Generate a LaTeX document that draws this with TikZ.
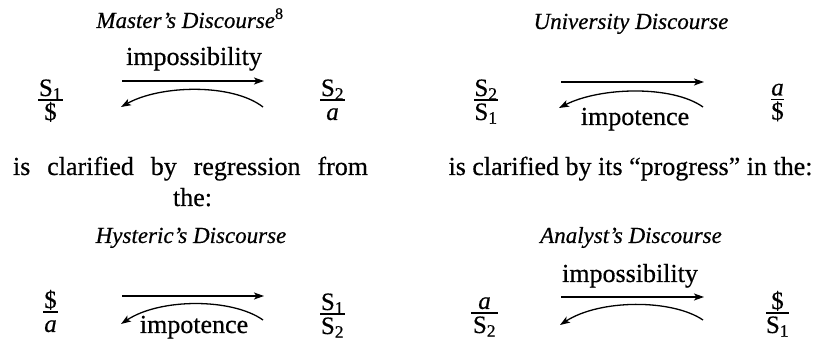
\documentclass[tikz,border=0pt]{standalone}
\usepackage{fontspec}
\setmainfont{Liberation Serif}[FakeBold=0.5]
\usetikzlibrary{arrows.meta}
\tikzset{
  ttl/.style={anchor=base,inner sep=0pt,font=\fontsize{23}{27}\selectfont\itshape},
  lbl/.style={anchor=base,inner sep=0pt,font=\fontsize{26}{30}\selectfont},
  num/.style={anchor=base,inner sep=0pt,font=\fontsize{25}{29}\selectfont},
  fbar/.style={line width=1.4pt},
  conn/.style={line width=1.3pt,-{Stealth[length=10pt,width=7pt,inset=2.5pt]}}
}
\newcommand{\Sone}{S\textsubscript{1}}
\newcommand{\Stwo}{S\textsubscript{2}}
\newcommand{\obja}{\textit{a}}
\newcommand{\fracn}[6]{%
  \node[num] (#1n) at (#2,#3-4) {#4};
  \node[num] (#1d) at (#2,#3+20) {#5};
  \draw[fbar] (#2-#6,#3) -- (#2+#6,#3);}
\begin{document}
\begin{tikzpicture}[x=1pt,y=-1pt]
\useasboundingbox (0,0) rectangle (816,344);
% Master
\node[ttl] (mt) at (190,28) {Master’s Discourse\textsuperscript{\upshape 8}};
\fracn{m1}{50.5}{100}{\Sone}{\$}{12.5}
\fracn{m2}{332.5}{100}{\Stwo}{\obja}{12.5}
\coordinate (ma1) at (122,81); \coordinate (ma2) at (264,81);
\coordinate (mb1) at (263,107); \coordinate (mb2) at (121,107);
\draw[conn] (ma1) -- (ma2);
\node[lbl] (mi) at (194,65) {impossibility};
\draw[conn] (mb1) .. controls (232,83) and (160,85) .. (mb2);
% University
\node[ttl] (ut) at (631,29) {University Discourse};
\fracn{u1}{486}{100}{\Stwo}{\Sone}{12}
\fracn{u2}{777.5}{99.5}{\obja}{\$}{6.5}
\coordinate (ua1) at (561,82); \coordinate (ua2) at (704,82);
\coordinate (ub1) at (703,107); \coordinate (ub2) at (559,108);
\draw[conn] (ua1) -- (ua2);
\draw[conn] (ub1) .. controls (672,85) and (600,87) .. (ub2);
\node[lbl] (ui) at (635,125) {impotence};
% middle text
\node[lbl] (t1) at (190.5,175) {\makebox[355pt][s]{is clarified by regression from}};
\node[lbl] (t2) at (192.5,206) {the:};
\node[lbl] (t3) at (630.5,175) {is clarified by its “progress” in the:};
% Hysteric
\node[ttl] (ht) at (191,243) {Hysteric’s Discourse};
\fracn{h1}{50.5}{312}{\$}{\obja}{7.5}
\fracn{h2}{332.5}{314}{\Sone}{\Stwo}{12.5}
\coordinate (ha1) at (122,296); \coordinate (ha2) at (264,296);
\coordinate (hb1) at (263,320); \coordinate (hb2) at (121,324);
\draw[conn] (ha1) -- (ha2);
\draw[conn] (hb1) .. controls (232,298) and (160,298) .. (hb2);
\node[lbl] (hi) at (194,333) {impotence};
% Analyst
\node[ttl] (at) at (631,243) {Analyst’s Discourse};
\fracn{a1}{484.5}{313}{\obja}{\Stwo}{13.5}
\fracn{a2}{777.5}{313}{\$}{\Sone}{11.5}
\coordinate (aa1) at (561,297); \coordinate (aa2) at (704,297);
\coordinate (ab1) at (703,320); \coordinate (ab2) at (560,325);
\draw[conn] (aa1) -- (aa2);
\node[lbl] (ai) at (630,282) {impossibility};
\draw[conn] (ab1) .. controls (672,299) and (600,299) .. (ab2);
\end{tikzpicture}
\end{document}
